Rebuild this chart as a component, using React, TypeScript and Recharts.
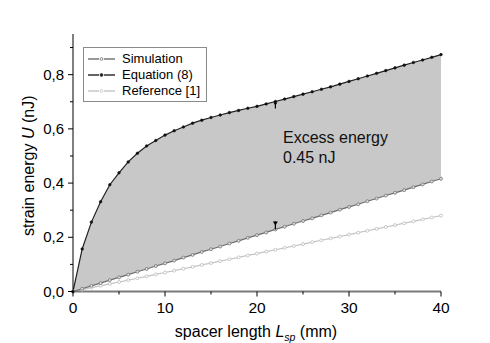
import React from 'react';
import { ComposedChart, Area, Line, Scatter, XAxis, YAxis } from 'recharts';

// spacer length (mm)
const lengths = [
  0, 1, 2, 3, 4, 5, 6, 7, 8, 9, 10, 11, 12, 13, 14, 15, 16, 17, 18, 19, 20,
  21, 22, 23, 24, 25, 26, 27, 28, 29, 30, 31, 32, 33, 34, 35, 36, 37, 38, 39, 40,
];

// strain energy (nJ)
const simulation = [
  0, 0.01, 0.021, 0.031, 0.042, 0.052, 0.062, 0.073, 0.083, 0.094, 0.104,
  0.114, 0.125, 0.135, 0.146, 0.156, 0.166, 0.177, 0.187, 0.198, 0.208,
  0.218, 0.229, 0.239, 0.25, 0.26, 0.27, 0.281, 0.291, 0.302, 0.312,
  0.322, 0.333, 0.343, 0.354, 0.364, 0.374, 0.385, 0.395, 0.406, 0.416,
];
const equation8 = [
  0, 0.157, 0.256, 0.331, 0.394, 0.438, 0.478, 0.51, 0.537, 0.557, 0.577,
  0.593, 0.607, 0.621, 0.632, 0.642, 0.651, 0.66, 0.668, 0.676, 0.683,
  0.692, 0.701, 0.71, 0.719, 0.728, 0.737, 0.746, 0.755, 0.765, 0.775,
  0.785, 0.795, 0.805, 0.815, 0.825, 0.835, 0.845, 0.854, 0.864, 0.874,
];
const reference1 = [
  0, 0.007, 0.014, 0.021, 0.028, 0.035, 0.042, 0.049, 0.056, 0.063, 0.07,
  0.077, 0.084, 0.091, 0.098, 0.105, 0.112, 0.119, 0.126, 0.133, 0.14,
  0.147, 0.154, 0.161, 0.168, 0.175, 0.182, 0.189, 0.196, 0.203, 0.21,
  0.217, 0.224, 0.231, 0.238, 0.245, 0.252, 0.259, 0.266, 0.273, 0.28,
];

// arrows marking the gap at 22 mm
const arrowX = [22, 22];
const arrowY = [0.701, 0.229];
const arrowDir = ['down', 'up'];

const xTicks = [0, 5, 10, 15, 20, 25, 30, 35, 40];
const yTicks = [0, 0.1, 0.2, 0.3, 0.4, 0.5, 0.6, 0.7, 0.8, 0.9];

const data = lengths.map((x, i) => ({
  x,
  sim: simulation[i],
  eq: equation8[i],
  ref: reference1[i],
  band: [simulation[i], equation8[i]],
}));

const arrows = arrowX.map((x, i) => ({ x, y: arrowY[i], dir: arrowDir[i] }));

const FONT = '"Liberation Sans", Arial, sans-serif';

const fmtY = (v: number) => v.toFixed(1).replace('.', ',');

const LeftTick = (props: any) => {
  const { x, y, payload } = props;
  const major = Math.round(payload.value * 10) % 2 === 0;
  return (
    <g>
      <line x1={x - (major ? 5 : 3)} x2={x} y1={y} y2={y} stroke="#000" />
      {major && (
        <text x={x - 9} y={y} dy={5} textAnchor="end" fontSize={15} fontFamily={FONT} fill="#000">
          {fmtY(payload.value)}
        </text>
      )}
    </g>
  );
};

const RightTick = (props: any) => {
  const { x, y, payload } = props;
  const major = Math.round(payload.value * 10) % 2 === 0;
  return <line x1={x - (major ? 5 : 3)} x2={x} y1={y} y2={y} stroke="#000" />;
};

const BottomTick = (props: any) => {
  const { x, y, payload } = props;
  const major = payload.value % 10 === 0;
  return (
    <g>
      <line x1={x} x2={x} y1={y} y2={y + (major ? 5 : 3)} stroke="#000" />
      {major && (
        <text x={x} y={y + 21} textAnchor="middle" fontSize={15.5} fontFamily={FONT} fill="#000">
          {payload.value}
        </text>
      )}
    </g>
  );
};

const TopTick = (props: any) => {
  const { x, y, payload } = props;
  const major = payload.value % 10 === 0;
  return <line x1={x} x2={x} y1={y} y2={y + (major ? 5 : 3)} stroke="#000" />;
};

const XTitle = (props: any) => {
  const { viewBox } = props;
  const cx = viewBox.x + viewBox.width / 2 - 1;
  return (
    <text x={cx} y={viewBox.y + 45} textAnchor="middle" fontSize={16} fontFamily={FONT} fill="#000">
      spacer length <tspan fontStyle="italic">L</tspan>
      <tspan fontSize={10.5} fontStyle="italic" dy={4}>sp</tspan>
      <tspan dy={-4}> (mm)</tspan>
    </text>
  );
};

const YTitle = (props: any) => {
  const { viewBox } = props;
  const cy = viewBox.y + viewBox.height / 2 + 3;
  const bx = 34;
  return (
    <text
      x={bx}
      y={cy}
      transform={`rotate(-90 ${bx} ${cy})`}
      textAnchor="middle"
      fontSize={16}
      fontFamily={FONT}
      fill="#000"
    >
      strain energy <tspan fontStyle="italic">U</tspan> (nJ)
    </text>
  );
};

const ArrowMark = (props: any) => {
  const { cx, cy, payload } = props;
  if (payload.dir === 'down') {
    return (
      <g>
        <line x1={cx} x2={cx} y1={cy} y2={cy + 7} stroke="#000" strokeWidth={1.2} />
        <path d={`M${cx - 2},${cy + 1} L${cx + 2},${cy + 1} L${cx},${cy + 4} Z`} fill="#000" />
      </g>
    );
  }
  return (
    <g>
      <line x1={cx} x2={cx} y1={cy} y2={cy - 8} stroke="#000" strokeWidth={1.2} />
      <path d={`M${cx - 2.5},${cy - 8} L${cx + 2.5},${cy - 8} L${cx},${cy - 4} Z`} fill="#000" />
    </g>
  );
};

const legendItems = [
  { name: 'Simulation', color: '#6e6e6e', fill: '#fff' },
  { name: 'Equation (8)', color: '#222', fill: '#222' },
  { name: 'Reference [1]', color: '#c4c4c4', fill: '#fff' },
];

const App: React.FC = () => {
  return (
    <div style={{ position: 'absolute', left: 0, top: 0, width: 490, height: 343, background: '#fff' }}>
      <ComposedChart
        width={490}
        height={343}
        data={data}
        margin={{ top: 34, right: 49, left: 0, bottom: 0 }}
      >
        <XAxis
          xAxisId="main"
          dataKey="x"
          type="number"
          domain={[0, 40]}
          ticks={xTicks}
          interval={0}
          height={51.5}
          tickSize={0}
          tickMargin={0}
          tickLine={false}
          tick={<BottomTick />}
          axisLine={{ stroke: '#7a7a7a', strokeWidth: 2 }}
          label={<XTitle />}
        />
        <XAxis
          xAxisId="top"
          orientation="top"
          type="number"
          domain={[0, 40]}
          ticks={xTicks}
          interval={0}
          height={0}
          tickSize={0}
          tickMargin={0}
          tickLine={false}
          tick={<TopTick />}
          axisLine={{ stroke: '#000', strokeWidth: 1 }}
          allowDataOverflow
        />
        <YAxis
          yAxisId="main"
          type="number"
          domain={[0, 0.95]}
          ticks={yTicks}
          interval={0}
          width={73}
          tickSize={0}
          tickMargin={0}
          tickLine={false}
          tick={<LeftTick />}
          axisLine={{ stroke: '#000', strokeWidth: 1 }}
          label={<YTitle />}
        />
        <YAxis
          yAxisId="right"
          orientation="right"
          type="number"
          domain={[0, 0.95]}
          ticks={yTicks}
          interval={0}
          width={0}
          tickSize={0}
          tickMargin={0}
          tickLine={false}
          tick={<RightTick />}
          axisLine={{ stroke: '#7a7a7a', strokeWidth: 2 }}
          allowDataOverflow
        />
        <Area
          xAxisId="main"
          yAxisId="main"
          dataKey="band"
          type="linear"
          stroke="none"
          fill="#c8c8c8"
          fillOpacity={1}
          isAnimationActive={false}
        />
        <Line
          xAxisId="main"
          yAxisId="main"
          dataKey="ref"
          type="linear"
          stroke="#c4c4c4"
          strokeWidth={1.2}
          dot={{ r: 1.5, stroke: '#bdbdbd', strokeWidth: 0.8, fill: '#fff' }}
          isAnimationActive={false}
        />
        <Line
          xAxisId="main"
          yAxisId="main"
          dataKey="sim"
          type="linear"
          stroke="#6e6e6e"
          strokeWidth={1.2}
          dot={{ r: 1.5, stroke: '#777', strokeWidth: 0.8, fill: '#ddd' }}
          isAnimationActive={false}
        />
        <Line
          xAxisId="main"
          yAxisId="main"
          dataKey="eq"
          type="linear"
          stroke="#222"
          strokeWidth={1.2}
          dot={{ r: 1.3, stroke: '#111', strokeWidth: 0.6, fill: '#111' }}
          isAnimationActive={false}
        />
        <Scatter
          xAxisId="main"
          yAxisId="main"
          data={arrows}
          dataKey="y"
          shape={<ArrowMark />}
          isAnimationActive={false}
        />
      </ComposedChart>

      <div
        style={{
          position: 'absolute',
          left: 83,
          top: 47,
          width: 124,
          height: 55,
          boxSizing: 'border-box',
          border: '1px solid #8a8a8a',
          background: '#fff',
          padding: '3px 0 0 4px',
          fontFamily: FONT,
          fontSize: 13,
        }}
      >
        {legendItems.map((it) => (
          <div key={it.name} style={{ display: 'flex', alignItems: 'center', height: 16, lineHeight: '16px' }}>
            <svg width={28} height={10} style={{ marginRight: 6 }}>
              <line x1={0} x2={11} y1={5} y2={5} stroke={it.color} strokeWidth={1.4} />
              <line x1={16} x2={27} y1={5} y2={5} stroke={it.color} strokeWidth={1.4} />
              <circle cx={13.5} cy={5} r={1.4} fill={it.fill} stroke={it.color} strokeWidth={0.8} />
            </svg>
            <span>{it.name}</span>
          </div>
        ))}
      </div>

      <div
        style={{
          position: 'absolute',
          left: 283,
          top: 128,
          fontFamily: FONT,
          fontSize: 16,
          lineHeight: '19.5px',
          color: '#111',
        }}
      >
        Excess energy
        <br />
        0.45 nJ
      </div>
    </div>
  );
};

export default App;
